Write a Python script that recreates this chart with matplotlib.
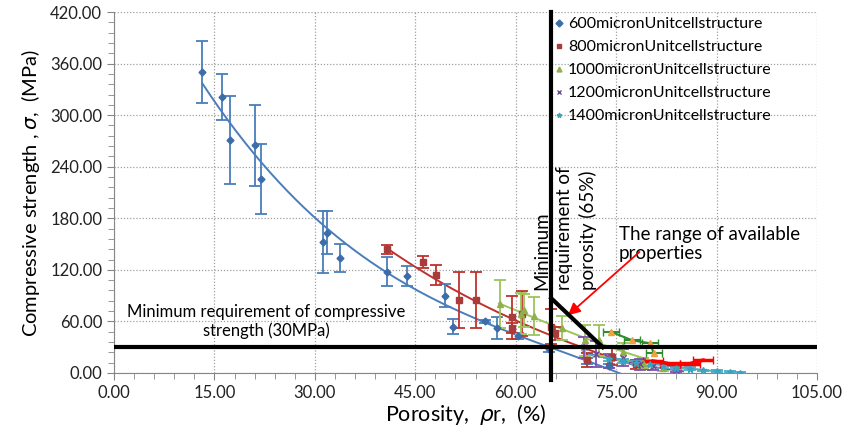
import matplotlib.pyplot as plt
import numpy as np
from matplotlib.lines import Line2D
from matplotlib.ticker import MultipleLocator

plt.rcParams['font.family'] = ['Lato', 'DejaVu Sans']

# 600 micron unit cell
x600 = [13.2, 16.1, 17.3, 21.0, 22.0, 31.2, 31.8, 33.8, 40.8, 43.8, 49.5, 50.7, 55.4, 57.2, 60.4, 65.0, 70.6, 74.0]
y600 = [350, 321, 271, 265, 226, 152, 163, 134, 118, 113, 90, 54, 60, 52, 43, 28, 14, 8]
e600 = [36, 27, 51, 47, 41, 36, 25, 16, 17, 12, 13, 9, 2, 13, 3, 4, 3, 2]
trend600_x = [13.2, 22, 31, 40.8, 50, 55, 60, 65, 71, 76]
trend600_y = [340, 240, 170, 124, 80, 60, 42, 28, 10, 2]

# 800 micron unit cell
x800 = [40.7, 46.2, 48.1, 51.6, 54.1, 59.5, 59.5, 61.0, 65.2, 65.9, 70.6, 74.4, 78.0]
y800 = [144, 129, 114, 85, 85, 65, 52, 69, 54, 46, 15, 19, 10]
e800 = [5, 7, 12, 33, 33, 25, 6, 26, 20, 8, 8, 10, 5]
trend800_x = [40.7, 47, 53, 60, 65, 72, 80]
trend800_y = [146, 113, 87, 62, 46, 22, 4]

# 1000 micron unit cell
x1000 = [57.7, 60.8, 61.2, 62.7, 66.9, 70.4, 72.4, 76.0, 79.0, 82.0]
y1000 = [80, 69, 73, 66, 52, 38, 38, 25, 12, 6]
e1000 = [28, 24, 19, 22, 14, 18, 18, 10, 6, 4]
trend1000_x = [57.5, 65, 72.4, 80, 85]
trend1000_y = [81, 57, 35, 15, 5]

# 1200 micron unit cell
x1200 = [70.2, 72.0, 74.0, 76.0, 78.5, 80.5, 84.0]
y1200 = [30, 22, 14, 18, 10, 8, 4]
e1200 = [12, 15, 8, 10, 6, 5, 3]
trend1200_x = [70, 77, 85]
trend1200_y = [24, 12, 2]

# 1400 micron unit cell
x1400 = [74, 76, 78, 80, 82, 84, 86, 88, 90, 92, 93.5]
y1400 = [16, 14, 12, 10, 8, 6, 5, 3, 2, 1, 0.5]
e1400 = [2, 2, 2, 2, 2, 1.5, 1.5, 1, 1, 1, 0.5]
trend1400_x = [71, 80, 90.5]
trend1400_y = [21, 11, 1.5]

# extra series with horizontal error bars
xg = [74.2, 77.4, 80.1, 80.6]
yg = [48, 38, 34.5, 23]
xr = [80.5, 83.0, 86.0, 88.0]
yr = [14, 11, 11, 15]

fig = plt.figure(figsize=(8.51, 4.32), dpi=100)
ax = fig.add_axes([0.134, 0.1366, 0.826, 0.8356])

series = [
    (x600, y600, e600, trend600_x, trend600_y, 'D', '#3d6ca8', '#4a7ebb', '600micronUnitcellstructure', 3.5),
    (x800, y800, e800, trend800_x, trend800_y, 's', '#a83c3a', '#c0312d', '800micronUnitcellstructure', 4.5),
    (x1000, y1000, e1000, trend1000_x, trend1000_y, '^', '#8fb04a', '#9bc45a', '1000micronUnitcellstructure', 5),
    (x1200, y1200, e1200, trend1200_x, trend1200_y, 'x', '#6a4d91', '#7d50b0', '1200micronUnitcellstructure', 4.5),
    (x1400, y1400, e1400, trend1400_x, trend1400_y, '*', '#3ba3c0', '#4bacc6', '1400micronUnitcellstructure', 5),
]

handles = []
for xs, ys, es, tx, ty, mk, mc, lc, lab, ms in series:
    ax.errorbar(xs, ys, yerr=es, fmt=mk, color=mc, ecolor=lc, elinewidth=1.3,
                capsize=4, capthick=1.3, markersize=ms, zorder=3)
    p = np.polyfit(tx, ty, min(3, len(tx) - 1))
    xx = np.linspace(min(tx), max(tx), 200)
    ax.plot(xx, np.polyval(p, xx), color=lc, lw=1.4, zorder=2)
    handles.append(Line2D([], [], ls='none', marker=mk, color=mc, markersize=3.5, label=lab))

ax.errorbar(xg, yg, xerr=1.2, fmt='-^', color='#2e8b2e', mfc='#f0a040', mec='#f0a040',
            markersize=4, capsize=3, lw=1.5, zorder=3)
ax.errorbar(xr, yr, xerr=1.5, fmt='-', color='#ff0000', capsize=3, lw=2.5, zorder=3)

# requirement lines
ax.axhline(30, color='black', lw=3, zorder=4)
ax.plot([65.3, 65.3], [-8, 420], color='black', lw=3, zorder=4, clip_on=False)
ax.plot([65.3, 73], [87, 30], color='black', lw=3, zorder=4)

ax.text(22.8, 60, 'Minimum requirement of compressive\nstrength (30MPa)', ha='center',
        va='center', fontsize=12)
ax.text(62.6, 97, 'Minimum\nrequirement of\nporosity (65%)', rotation=90, ha='left',
        va='bottom', fontsize=13.5, multialignment='left', linespacing=1.4)
ax.text(75.4, 150, 'The range of available\nproperties', ha='left', va='center', fontsize=13.5)
ax.annotate('', xy=(67.5, 65), xytext=(78.8, 143),
            arrowprops=dict(arrowstyle='-|>', color='red', lw=1.3, mutation_scale=18))

ax.set_xlim(0, 105)
ax.set_ylim(0, 420)
ax.xaxis.set_major_locator(MultipleLocator(15))
ax.xaxis.set_minor_locator(MultipleLocator(3))
ax.yaxis.set_major_locator(MultipleLocator(60))
ax.yaxis.set_minor_locator(MultipleLocator(12))
ax.xaxis.set_major_formatter(lambda v, pos: f'{v:.2f}')
ax.yaxis.set_major_formatter(lambda v, pos: f'{v:.2f}')
ax.grid(True, which='major', linestyle=(0, (1, 1.5)), color='#a0a0a0', lw=0.9)
ax.set_axisbelow(True)
for s in ['top', 'right']:
    ax.spines[s].set_visible(False)
for s in ['left', 'bottom']:
    ax.spines[s].set_color('#868686')
ax.tick_params(which='both', direction='out', color='#868686', labelsize=12,
               labelcolor='#222222')
ax.tick_params(which='major', length=5)
ax.tick_params(which='minor', length=4)
ax.set_xlabel('Porosity,  $\\rho$r,  (%)', fontsize=15.5, labelpad=1)
ax.set_ylabel('Compressive strength , $\\sigma$,  (MPa)', fontsize=14.5, labelpad=6)

ax.legend(handles=handles, loc='upper left', bbox_to_anchor=(0.613, 1.012), frameon=False,
          fontsize=11.5, handlelength=0.5, handletextpad=0.35, labelspacing=0.55,
          borderaxespad=0.2)

fig.savefig('out.png', dpi=100)
